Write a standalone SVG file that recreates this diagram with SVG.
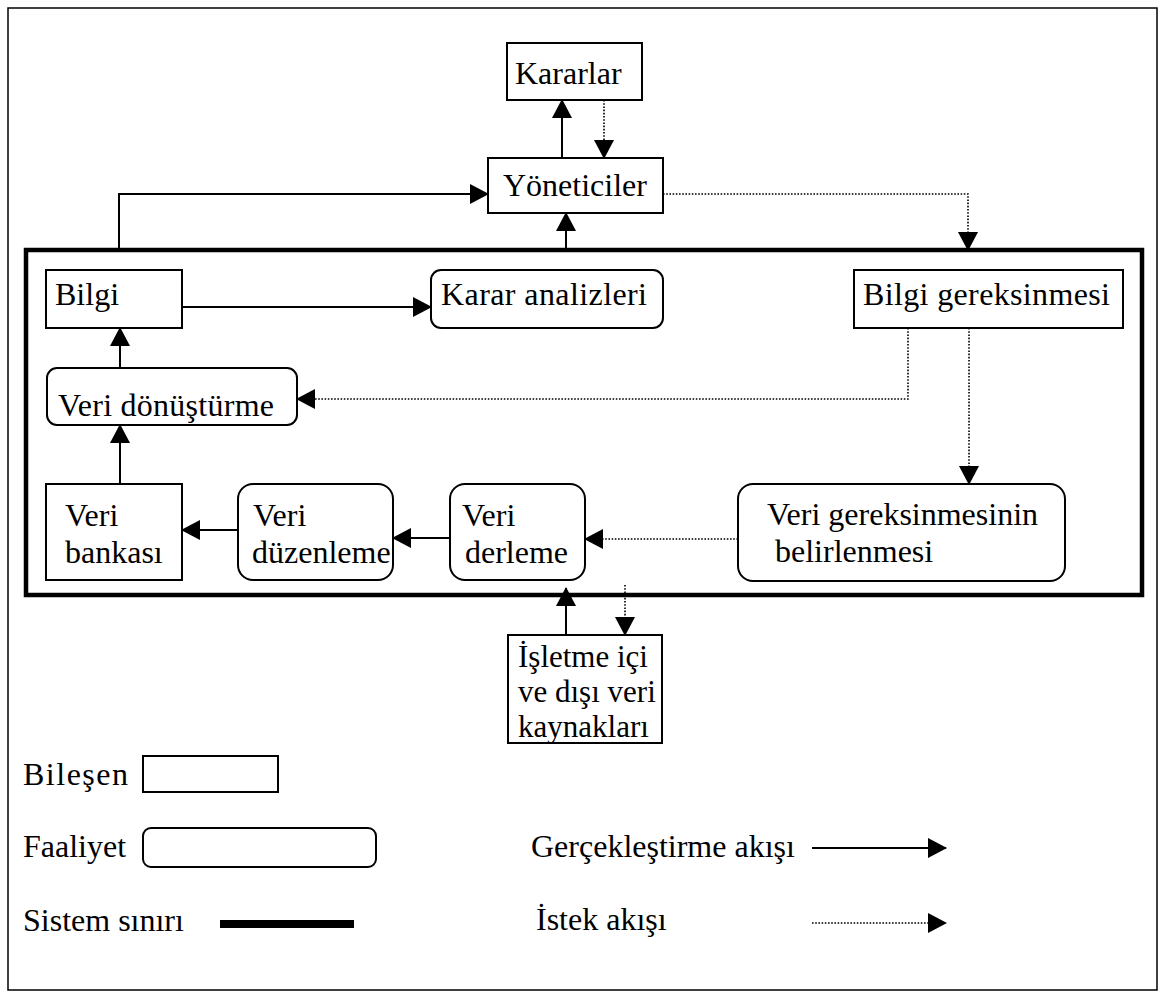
<svg xmlns="http://www.w3.org/2000/svg" width="1164" height="1003" viewBox="0 0 1164 1003">
  <style>
    text { font-family: "Liberation Serif", "Times New Roman", serif; font-size: 32px; fill: #000; }
    .small { font-size: 31px; }
    .box { fill: #fff; stroke: #000; stroke-width: 2; }
    .flow { fill: none; stroke: #000; stroke-width: 2; marker-end: url(#head); }
    .req { fill: none; stroke: #000; stroke-width: 1.6; stroke-dasharray: 1.6 1.6; marker-end: url(#head); }
  </style>
  <defs>
    <marker id="head" markerUnits="userSpaceOnUse" markerWidth="20" markerHeight="22" refX="18" refY="11" orient="auto">
      <path d="M0,1 L19,11 L0,21 Z" fill="#000"/>
    </marker>
  </defs>

  <rect width="1164" height="1003" fill="#fff"/>
  <!-- outer frame -->
  <rect x="8" y="8" width="1149" height="982" fill="none" stroke="#000" stroke-width="1.5"/>

  <!-- system boundary -->
  <rect id="system-boundary" x="26" y="250" width="1116" height="345" fill="none" stroke="#000" stroke-width="4.5"/>

  <!-- connectors -->
  <g id="connectors">
    <path class="flow" d="M562,158 V100"/>
    <path class="req" d="M604,100 V158"/>
    <path class="flow" d="M119,250 V194 H488"/>
    <path class="flow" d="M566,250 V213"/>
    <path class="req" d="M663,194 H968 V250"/>
    <path class="flow" d="M182,307 H431"/>
    <path class="req" d="M908,328 V399 H297"/>
    <path class="req" d="M969,328 V484"/>
    <path class="req" d="M738,539 H585"/>
    <path class="flow" d="M450,538 H393"/>
    <path class="flow" d="M238,530 H182"/>
    <path class="flow" d="M120,484 V425"/>
    <path class="flow" d="M120,368 V328"/>
    <path class="flow" d="M566,635 V588"/>
    <path class="req" d="M625,585 V635"/>
  </g>

  <!-- components and activities -->
  <g id="kararlar">
    <rect class="box" x="507" y="43" width="135" height="57"/>
    <text x="515" y="84">Kararlar</text>
  </g>
  <g id="yoneticiler">
    <rect class="box" x="488" y="158" width="175" height="55"/>
    <text x="503" y="196">Yöneticiler</text>
  </g>
  <g id="bilgi">
    <rect class="box" x="46" y="270" width="136" height="58"/>
    <text x="55" y="305">Bilgi</text>
  </g>
  <g id="karar-analizleri">
    <rect class="box" x="431" y="270" width="232" height="58" rx="10"/>
    <text x="441" y="305" textLength="206" lengthAdjust="spacing">Karar analizleri</text>
  </g>
  <g id="bilgi-gereksinmesi">
    <rect class="box" x="854" y="270" width="269" height="58"/>
    <text x="863" y="305" textLength="247" lengthAdjust="spacing">Bilgi gereksinmesi</text>
  </g>
  <g id="veri-donusturme">
    <rect class="box" x="47" y="368" width="250" height="57" rx="10"/>
    <text x="58" y="416" textLength="216" lengthAdjust="spacing">Veri dönüştürme</text>
  </g>
  <g id="veri-bankasi">
    <rect class="box" x="46" y="484" width="136" height="96"/>
    <text x="65" y="526">Veri</text>
    <text x="65" y="563">bankası</text>
  </g>
  <g id="veri-duzenleme">
    <rect class="box" x="238" y="484" width="155" height="96" rx="15"/>
    <text x="253" y="526">Veri</text>
    <text x="252" y="563">düzenleme</text>
  </g>
  <g id="veri-derleme">
    <rect class="box" x="450" y="484" width="135" height="96" rx="15"/>
    <text x="462" y="526">Veri</text>
    <text x="465" y="563">derleme</text>
  </g>
  <g id="veri-gereksinmesi">
    <rect class="box" x="738" y="484" width="327" height="97" rx="15"/>
    <text x="767" y="525">Veri gereksinmesinin</text>
    <text x="775" y="562">belirlenmesi</text>
  </g>
  <g id="veri-kaynaklari">
    <rect class="box" x="508" y="635" width="154" height="108"/>
    <text class="small" x="518" y="667">İşletme içi</text>
    <text class="small" x="518" y="702">ve dışı veri</text>
    <text class="small" x="518" y="737">kaynakları</text>
  </g>

  <!-- legend -->
  <g id="legend">
    <text x="23" y="785" textLength="105" lengthAdjust="spacing">Bileşen</text>
    <rect class="box" x="143" y="756" width="135" height="36"/>
    <text x="23" y="857">Faaliyet</text>
    <rect class="box" x="143" y="828" width="233" height="39" rx="8"/>
    <text x="23" y="931">Sistem sınırı</text>
    <rect x="220" y="920" width="134" height="8" fill="#000"/>
    <text x="531" y="857">Gerçekleştirme akışı</text>
    <path class="flow" d="M812,848 H946"/>
    <text x="536" y="930">İstek akışı</text>
    <path class="req" d="M812,923 H946"/>
  </g>
</svg>
